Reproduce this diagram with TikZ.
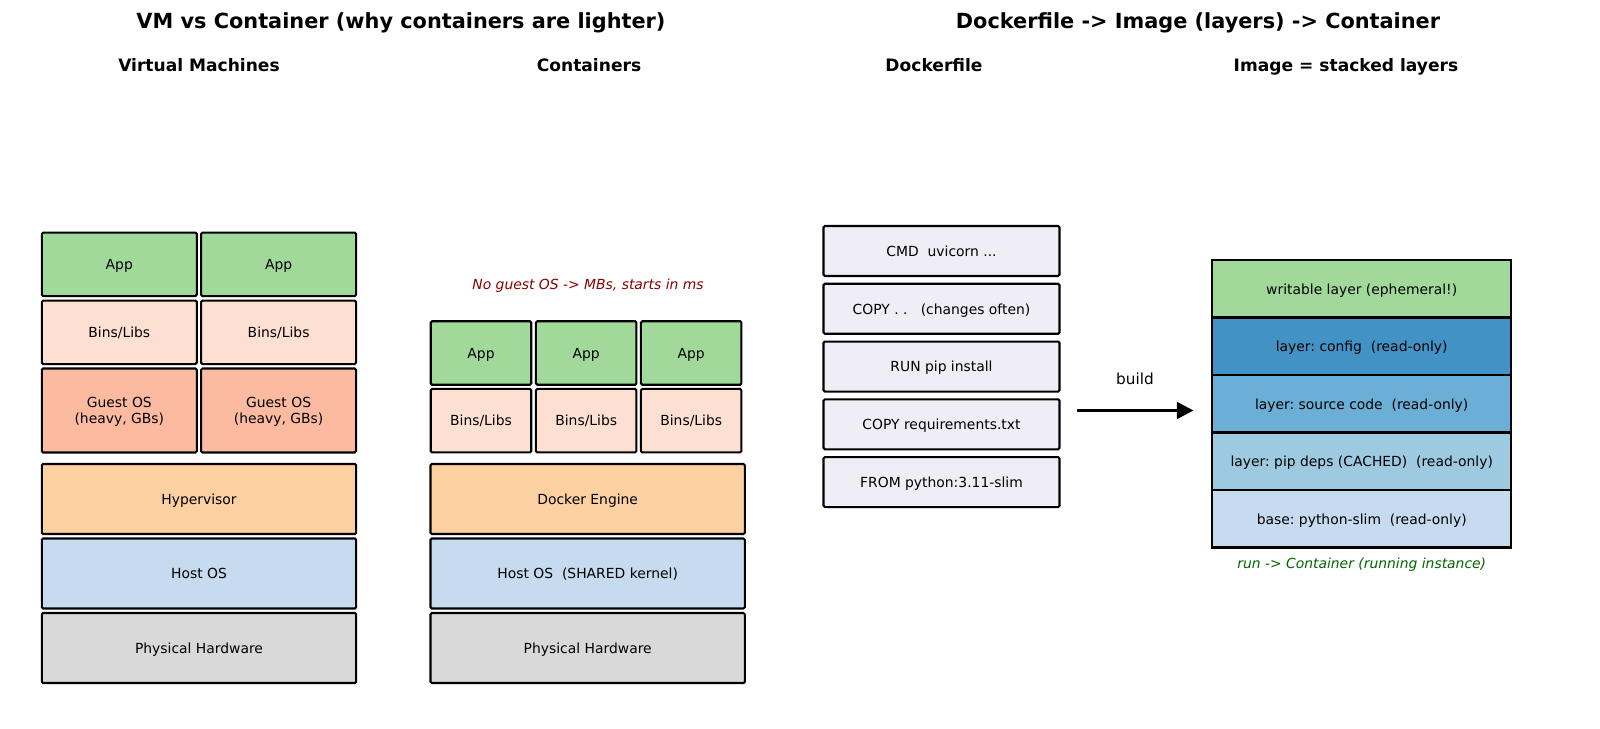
\documentclass[tikz,border=0pt]{standalone}
\usepackage{fontspec}
\setmainfont{DejaVu Sans}
\usepackage{xcolor}
\usepackage{tikz}
\usetikzlibrary{positioning,arrows.meta}
\frenchspacing

\definecolor{appgreen}{HTML}{A1D99B}
\definecolor{libpink}{HTML}{FEE0D2}
\definecolor{guestsalmon}{HTML}{FCBBA1}
\definecolor{engineorange}{HTML}{FDD0A2}
\definecolor{hostblue}{HTML}{C6DBEF}
\definecolor{hwgray}{HTML}{D9D9D9}
\definecolor{dfgray}{HTML}{EFEDF5}
\definecolor{cfgblue}{HTML}{4292C6}
\definecolor{srcblue}{HTML}{6BAED6}
\definecolor{depblue}{HTML}{9ECAE1}
\definecolor{notered}{HTML}{8B0000}
\definecolor{notegreen}{HTML}{006400}

\newcommand{\pxu}{0.72pt}

\begin{document}
\begin{tikzpicture}[x=\pxu, y=-\pxu,
  box/.style={draw, rectangle, rounded corners=1pt, line width=1.5pt, inner sep=0pt, outer sep=0pt,
    align=center, text depth=0pt, font=\fontsize{10}{12}\selectfont},
  vmcell/.style={box, minimum width=155*\pxu},
  ctcell/.style={box, minimum width=100.5*\pxu, minimum height=63.5*\pxu},
  widebox/.style={box, minimum width=314.4*\pxu, minimum height=70*\pxu},
  dfline/.style={box, fill=dfgray, minimum width=236*\pxu, minimum height=50*\pxu},
  layerbox/.style={box, rounded corners=0pt, minimum width=299*\pxu, minimum height=57.5*\pxu},
  bigtitle/.style={text depth=0pt, font=\fontsize{15}{18}\selectfont\bfseries},
  subtitle/.style={text depth=0pt, font=\fontsize{12.3}{15}\selectfont\bfseries},
  note/.style={text depth=0pt, font=\fontsize{10}{12}\selectfont\itshape}]
\useasboundingbox[fill=white] (0,0) rectangle (1600,729);

\node[bigtitle] (vmtitle) at (401,21) {VM vs Container (why containers are lighter)};
\node[bigtitle] (dftitle) at (1198,21) {Dockerfile -> Image (layers) -> Container};

\node[subtitle] (vmhead) at (199,65) {Virtual Machines};
\node[subtitle] (cthead) at (589,65) {Containers};
\node[subtitle] (dfhead) at (934,65) {Dockerfile};
\node[subtitle] (imghead) at (1346,65) {Image = stacked layers};

% virtual machines
\node[vmcell, fill=appgreen, minimum height=63.5*\pxu] (vmapp1) at (119.3,264.3) {App};
\node[vmcell, fill=appgreen, minimum height=63.5*\pxu] (vmapp2) at (278.6,264.3) {App};
\node[vmcell, fill=libpink, minimum height=63.5*\pxu] (vmlib1) at (119.3,332.3) {Bins/Libs};
\node[vmcell, fill=libpink, minimum height=63.5*\pxu] (vmlib2) at (278.6,332.3) {Bins/Libs};
\node[vmcell, fill=guestsalmon, minimum height=84*\pxu] (guest1) at (119.3,410.5) {Guest OS\\(heavy, GBs)};
\node[vmcell, fill=guestsalmon, minimum height=84*\pxu] (guest2) at (278.6,410.5) {Guest OS\\(heavy, GBs)};
\node[widebox, fill=engineorange] (hyper) at (199,499) {Hypervisor};
\node[widebox, fill=hostblue] (vmhost) at (199,573.5) {Host OS};
\node[widebox, fill=hwgray] (vmhw) at (199,648) {Physical Hardware};

% containers
\node[note, text=notered] (ctnote) at (588,284) {No guest OS -> MBs, starts in ms};
\node[ctcell, fill=appgreen] (ctapp1) at (481,353) {App};
\node[ctcell, fill=appgreen] (ctapp2) at (586.2,353) {App};
\node[ctcell, fill=appgreen] (ctapp3) at (691.2,353) {App};
\node[ctcell, fill=libpink] (ctlib1) at (481,420.7) {Bins/Libs};
\node[ctcell, fill=libpink] (ctlib2) at (586.2,420.7) {Bins/Libs};
\node[ctcell, fill=libpink] (ctlib3) at (691.2,420.7) {Bins/Libs};
\node[widebox, fill=engineorange] (engine) at (587.7,499) {Docker Engine};
\node[widebox, fill=hostblue] (cthost) at (587.7,573.5) {Host OS\ \ (SHARED kernel)};
\node[widebox, fill=hwgray] (cthw) at (587.7,648) {Physical Hardware};

% dockerfile
\node[dfline] (cmd) at (941.5,251) {CMD\ \ uvicorn ...};
\node[dfline, below=5.6pt of cmd] (copyall) {COPY . .\ \ \ (changes often)};
\node[dfline, below=5.6pt of copyall] (pipinst) {RUN pip install};
\node[dfline, below=5.6pt of pipinst] (copyreq) {COPY requirements.txt};
\node[dfline, below=5.6pt of copyreq] (fromimg) {FROM python:3.11-slim};

% build arrow
\coordinate (buildfrom) at (1076.5,410.5);
\coordinate (buildto) at (1193.5,410.5);
\draw[line width=2pt, -{Triangle[length=12pt,width=12pt]}] (buildfrom) -- node[midway, yshift=22.5pt, font=\fontsize{11}{13}\selectfont] (buildlbl) {build} (buildto);

% image layers
\node[layerbox, fill=appgreen] (writable) at (1361.7,288.75) {writable layer (ephemeral!)};
\node[layerbox, fill=cfgblue, below=0pt of writable] (cfglayer) {layer: config\ \ (read-only)};
\node[layerbox, fill=srcblue, below=0pt of cfglayer] (srclayer) {layer: source code\ \ (read-only)};
\node[layerbox, fill=depblue, below=0pt of srclayer] (deplayer) {layer: pip deps (CACHED)\ \ (read-only)};
\node[layerbox, fill=hostblue, below=0pt of deplayer] (baselayer) {base: python-slim\ \ (read-only)};
\node[note, text=notegreen] (runnote) at (1361.7,563) {run -> Container (running instance)};
\end{tikzpicture}
\end{document}
